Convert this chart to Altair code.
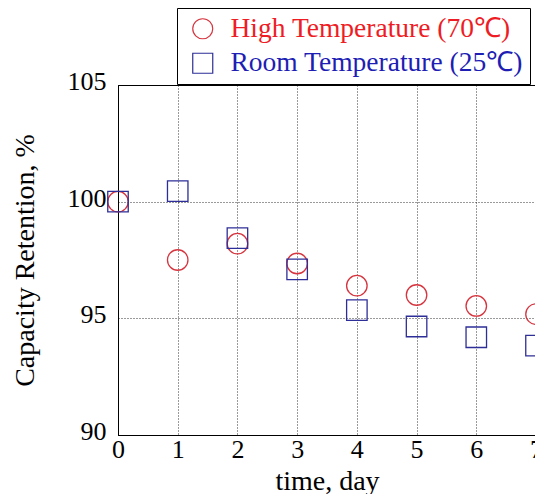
import altair as alt
import pandas as pd

days = [0, 1, 2, 3, 4, 5, 6, 7]
high_temp = [100.0, 97.5, 98.2, 97.35, 96.4, 96.0, 95.53, 95.18]
room_temp = [100.0, 100.45, 98.44, 97.1, 95.35, 94.65, 94.19, 93.83]
series = ["High Temperature (70℃)", "Room Temperature (25℃)"]
marker_colors = ["#d6343e", "#2e2e98"]
label_colors = ["#ee1c24", "#1e1eb4"]
shapes = ["circle", "square"]
x_ticks = days
y_ticks = [90, 95, 100, 105]

df = pd.DataFrame({
    "day": days + days,
    "retention": high_temp + room_temp,
    "series": [series[0]] * len(days) + [series[1]] * len(days),
})

legend = alt.Legend(
    title=None,
    orient="none",
    legendX=59,
    legendY=-77,
    direction="vertical",
    strokeColor="black",
    fillColor="white",
    padding=7,
    labelFont="Liberation Serif",
    labelFontSize=27.5,
    labelColor=alt.ExprRef(
        f"indexof(datum.label, 'High') >= 0 ? '{label_colors[0]}' : '{label_colors[1]}'"
    ),
    symbolSize=400,
    symbolStrokeWidth=1.2,
    labelOffset=14,
    rowPadding=5.5,
    symbolOffset=5,
    labelLimit=0,
)

chart = (
    alt.Chart(df)
    .mark_point(filled=False, size=420, strokeWidth=1.3, opacity=1)
    .encode(
        x=alt.X(
            "day:Q",
            scale=alt.Scale(domain=[0, 7], nice=False),
            axis=alt.Axis(
                title="time, day",
                values=x_ticks,
                labelPadding=22,
                labelBaseline="alphabetic",
                titleBaseline="alphabetic",
                titleY=54,
            ),
        ),
        y=alt.Y(
            "retention:Q",
            scale=alt.Scale(domain=[90, 105], nice=False),
            axis=alt.Axis(
                title="Capacity Retention, %",
                values=y_ticks,
                labelPadding=12,
                labelBaseline="alphabetic",
                labelOffset=4.5,
                titleBaseline="alphabetic",
                titleX=-85,
            ),
        ),
        color=alt.Color("series:N", scale=alt.Scale(domain=series, range=marker_colors), legend=legend),
        shape=alt.Shape("series:N", scale=alt.Scale(domain=series, range=shapes), legend=legend),
    )
    .properties(
        width=418,
        height=350,
        autosize=alt.AutoSizeParams(type="none"),
        padding={"left": 110, "top": 77, "right": -1, "bottom": 59},
    )
    .configure_view(stroke="black", strokeWidth=1)
    .configure_axis(
        labelFont="Liberation Serif",
        labelFontSize=26,
        labelColor="black",
        titleFont="Liberation Serif",
        titleFontSize=28,
        titleFontWeight="normal",
        titleColor="black",
        grid=True,
        gridColor="black",
        gridDash=[1, 2],
        gridOpacity=1,
        gridWidth=0.8,
        ticks=False,
        tickSize=0,
        domainColor="black",
        domainWidth=1,
        labelFlush=False,
        labelOverlap=False,
    )
)

chart.save("out.html", embed_options={"renderer": "svg", "actions": False})
